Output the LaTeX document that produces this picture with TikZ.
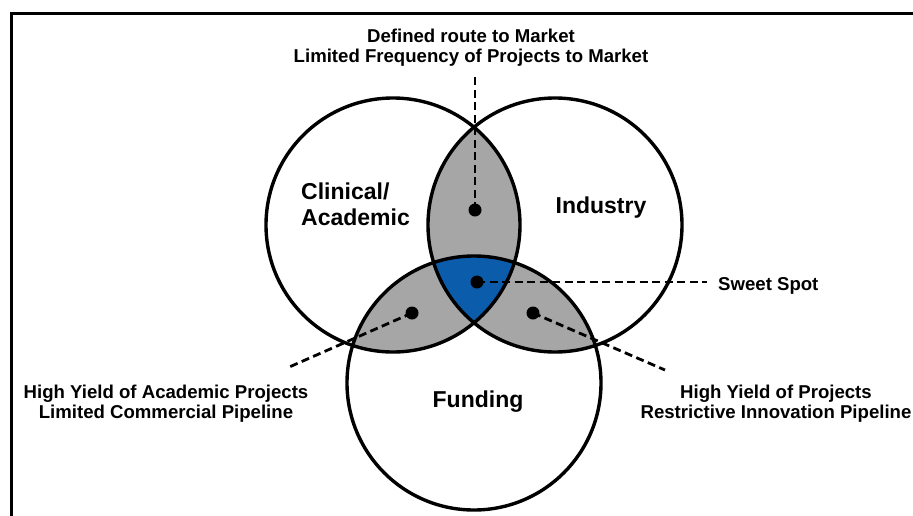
\documentclass[tikz,border=0pt]{standalone}
\usepackage{fontspec}
\setmainfont{Liberation Sans}
\definecolor{lensgray}{RGB}{166,166,166}
\definecolor{sweetblue}{RGB}{12,92,172}
\begin{document}
\begin{tikzpicture}[x=1pt,y=-1pt,
  ring/.style={draw=black,line width=3.4pt},
  lead/.style={draw=black,line width=2.8pt,dash pattern=on 8pt off 4.5pt},
  dotnode/.style={circle,fill=black,inner sep=0pt,minimum size=13pt},
  smalltext/.style={font=\bfseries\fontsize{18.6}{19.5}\selectfont,inner sep=0pt,align=center},
  bigtext/.style={font=\bfseries\fontsize{23}{26}\selectfont,inner sep=0pt}]
\useasboundingbox (0,0) rectangle (913,515);
\clip (0,0) rectangle (913,515);
\fill[white] (0,0) rectangle (913,515);
\draw[line width=3pt] (11,13) rectangle (940,540);
% circle centres
\coordinate (A) at (393,225);
\coordinate (B) at (555,225);
\coordinate (C) at (474,383);
% pairwise overlaps
\begin{scope}
  \clip (A) circle (127pt);
  \fill[lensgray] (B) circle (127pt);
  \fill[lensgray] (C) circle (127pt);
\end{scope}
\begin{scope}
  \clip (B) circle (127pt);
  \fill[lensgray] (C) circle (127pt);
\end{scope}
\begin{scope}
  \clip (A) circle (127pt);
  \clip (B) circle (127pt);
  \fill[sweetblue] (C) circle (127pt);
\end{scope}
\draw[ring] (A) circle (127pt);
\draw[ring] (B) circle (127pt);
\draw[ring] (C) circle (127pt);
% labels
\node[bigtext,anchor=base west] (clin) at (301,199) {Clinical/};
\node[bigtext,anchor=base west] (acad) at (301,225) {Academic};
\node[bigtext,anchor=base] (ind) at (601,213) {Industry};
\node[bigtext,anchor=base] (fund) at (478,407) {Funding};
% dots
\node[dotnode] (d1) at (475,210) {};
\node[dotnode] (d2) at (477,282) {};
\node[dotnode] (d3) at (412,313) {};
\node[dotnode] (d4) at (533,313) {};
% leader ends
\coordinate (e1) at (475,74);
\coordinate (e2) at (707,282);
\coordinate (e3) at (287,368);
\coordinate (e4) at (665,370);
\draw[lead] (d1.center) -- (e1);
\draw[lead] (d2.center) -- (e2);
\draw[lead] (d3.center) -- (e3);
\draw[lead] (d4.center) -- (e4);
% texts
\node[smalltext,anchor=north] (t1) at (471,29) {Defined route to Market\\Limited Frequency of Projects to Market};
\node[smalltext,anchor=base west] (t2) at (718,290) {Sweet Spot};
\node[smalltext,anchor=north] (t3) at (166,385) {High Yield of Academic Projects\\Limited Commercial Pipeline};
\node[smalltext,anchor=north] (t4) at (776,385) {High Yield of Projects\\Restrictive Innovation Pipeline};
\end{tikzpicture}
\end{document}
